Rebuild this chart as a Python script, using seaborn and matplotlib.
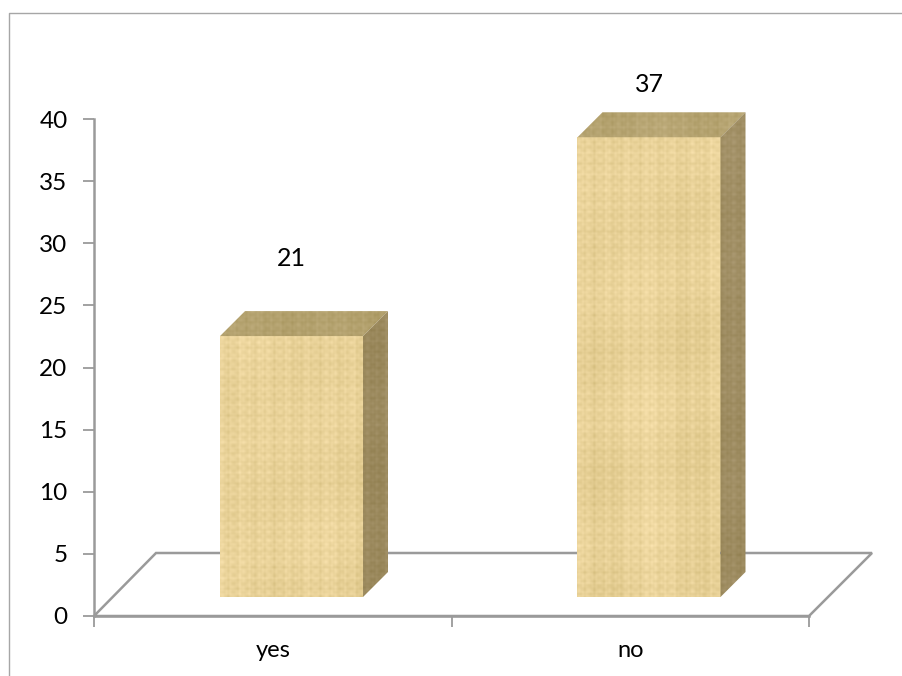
import numpy as np
import pandas as pd
import matplotlib
matplotlib.use("Agg")
import matplotlib.pyplot as plt
from matplotlib.patches import Polygon
from matplotlib.transforms import Affine2D
import seaborn as sns

categories = ["yes", "no"]
counts = [21, 37]
y_ticks = [0, 5, 10, 15, 20, 25, 30, 35, 40]

W, H = 903, 676
AXIS_GRAY = "#9a9a9a"
FRAME_GRAY = "#a6a6a6"
DEPTH = 25          # pixel depth of the extruded bars
LIFT = (18.75, 19)  # front faces sit forward on the floor plane

sns.set_theme(style="white")
plt.rcParams["font.family"] = ["Lato", "DejaVu Sans"]

fig = plt.figure(figsize=(W / 100, H / 100), dpi=100, facecolor="white")
ax = fig.add_axes([94 / W, (H - 616) / H, 715 / W, 497 / H])

data = pd.DataFrame({"answer": categories, "count": counts})
sns.barplot(data=data, x="answer", y="count", order=categories, ax=ax,
            color="#e8d49c", saturation=1, width=0.4, linewidth=0, zorder=3)

ax.set_xlim(-0.5, 1.5)
ax.set_ylim(0, 40)
ax.set_xlabel("")
ax.set_ylabel("")
ax.set_yticks(y_ticks)
ax.set_xticks([-0.5, 0.5, 1.5], labels=["", "", ""])
ax.set_xticks([0, 1], labels=categories, minor=True)
ax.tick_params(axis="both", which="major", length=8, width=1.3, color=AXIS_GRAY,
               left=True, bottom=True)
ax.tick_params(axis="y", labelsize=17.5, labelcolor="black", pad=11)
ax.tick_params(axis="x", which="minor", length=0, labelsize=17,
               labelcolor="black", pad=17)
sns.despine(ax=ax)
for side in ("left", "bottom"):
    ax.spines[side].set_color(AXIS_GRAY)
    ax.spines[side].set_linewidth(1.8)
ax.patch.set_alpha(0)

# Overlay in pixel coordinates for the frame, floor and box faces.
ov = fig.add_axes([0, 0, 1, 1], zorder=5)
ov.axis("off")
ov.patch.set_alpha(0)


def paper(w, h, phase):
    """Papyrus-like weave: mostly fine fibres with a few broad vertical bands."""
    xs = np.arange(w)[None, :] + phase * 37.0
    ys = np.arange(h)[:, None] + phase * 53.0
    cols = (0.7 * np.sin(xs * 0.071) + 0.6 * np.sin(xs * 0.29 + 1.3)
            + 0.8 * np.sin(xs * 0.67 + 0.4) + 0.7 * np.sin(xs * 1.37)
            + 0.5 * np.sin(xs * 1.91 + 2.2))
    rows = (0.3 * np.sin(ys * 0.043) + 0.5 * np.sin(ys * 0.37 + 0.7)
            + 0.7 * np.sin(ys * 0.83 + 2.1) + 0.6 * np.sin(ys * 1.49)
            + 0.4 * np.sin(ys * 2.03 + 1.1))
    weave = np.sin(xs * 0.61 + 0.4 * np.sin(ys * 0.23)) * np.sin(ys * 0.73 + 0.4 * np.sin(xs * 0.19))
    blot = np.sin(xs * 0.037 + ys * 0.023) * np.sin(xs * 0.023 - ys * 0.031)
    return cols * 0.42 + rows * 0.38 + weave * 0.6 + blot * 0.5


def textured(verts, base, amp, phase):
    verts = np.asarray(verts, dtype=float)
    x0, y0 = np.floor(verts.min(axis=0))
    x1, y1 = np.ceil(verts.max(axis=0))
    w, h = int(x1 - x0), int(y1 - y0)
    tone = paper(w, h, phase)[..., None]
    rgb = np.clip(np.array(base)[None, None, :] + amp * tone * np.array([1.0, 1.0, 1.3]), 0, 1)
    im = ov.imshow(rgb, extent=(x0, x1, y1, y0), aspect="auto",
                   interpolation="bicubic", zorder=3)
    im.set_clip_path(Polygon(verts, closed=True, transform=ov.transData))


FRONT = (0.915, 0.825, 0.60)
TOP = (0.71, 0.64, 0.44)
SIDE = (0.62, 0.55, 0.38)

# Floor plane under the bars, and the outer frame.
floor = [(94, 616), (156, 553), (872, 553), (809, 616)]
ov.add_patch(Polygon(floor, closed=True, fill=False, edgecolor=AXIS_GRAY,
                     linewidth=1.8, zorder=1))
ov.plot([9, 9, W], [H, 13, 13], color=FRAME_GRAY, linewidth=1.0, zorder=1)

shift = Affine2D().translate(*LIFT)
label_gaps = [78, 53]
for i, (bar, value) in enumerate(zip(ax.patches, counts)):
    bar.set_transform(ax.transData + shift)
    bar.set_clip_on(False)
    (dx0, dy0), (dx1, dy1) = ax.transData.transform(
        [(bar.get_x(), 0), (bar.get_x() + bar.get_width(), value)])
    x0, x1 = dx0 + LIFT[0], dx1 + LIFT[0]
    bottom, top = H - (dy0 + LIFT[1]), H - (dy1 + LIFT[1])
    textured([(x0, top), (x1, top), (x1, bottom), (x0, bottom)], FRONT, 0.032, i)
    textured([(x0, top), (x1, top), (x1 + DEPTH, top - DEPTH), (x0 + DEPTH, top - DEPTH)],
             TOP, 0.024, i + 2)
    textured([(x1, top), (x1 + DEPTH, top - DEPTH), (x1 + DEPTH, bottom - DEPTH), (x1, bottom)],
             SIDE, 0.024, i + 4)
    ov.text((x0 + x1) / 2, top - label_gaps[i], str(value), ha="center", va="center",
            fontsize=18, color="black", zorder=6)

ov.set_xlim(0, W)
ov.set_ylim(H, 0)

fig.savefig("out.png", dpi=100)
